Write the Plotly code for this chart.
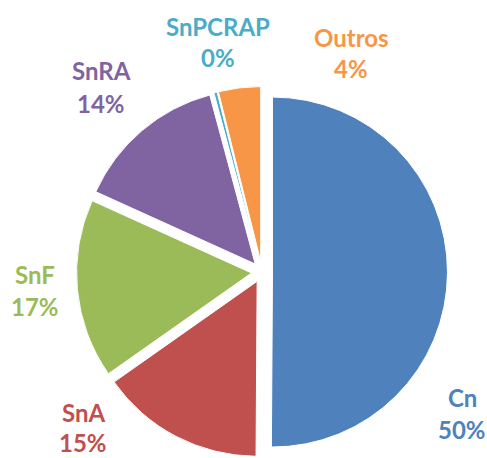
import plotly.graph_objects as go

categories = ["Cn", "SnA", "SnF", "SnRA", "SnPCRAP", "Outros"]
values = [50.3, 15.2, 16.6, 14.1, 0.3, 3.9]
colors = ["#4F81BD", "#C0504D", "#9BBB59", "#8064A2", "#4BACC6", "#F79646"]
# label centres (name line, percent line) in pixels from top-left
label_x = [462, 83, 35, 101, 218, 351]
name_y = [397, 412, 274, 71, 26, 38]
pct_y = [429, 442, 306, 103, 58, 69]

W, H = 487, 458
total = sum(values)

fig = go.Figure(go.Pie(
    labels=categories,
    values=values,
    sort=False,
    direction="clockwise",
    rotation=0,
    pull=[0.06] * len(values),
    marker=dict(colors=colors, line=dict(color="white", width=1)),
    textinfo="none",
    hoverinfo="label+percent",
    showlegend=False,
    domain=dict(x=[76.5 / W, 447.5 / W], y=[1 - 457.5 / H, 1 - 86.5 / H]),
))

for cat, v, c, x, yn, yp in zip(categories, values, colors, label_x, name_y, pct_y):
    for txt, y in ((cat, yn), (f"{round(v / total * 100)}%", yp)):
        fig.add_annotation(
            x=x / W, y=1 - y / H, xref="paper", yref="paper",
            text=f"<b>{txt}</b>",
            showarrow=False, xanchor="center", yanchor="middle",
            font=dict(family="Lato", size=24, color=c),
        )

fig.update_layout(
    width=W, height=H,
    margin=dict(l=0, r=0, t=0, b=0),
    paper_bgcolor="white", plot_bgcolor="white",
)

fig.write_html("out.html", config={"displayModeBar": False},
               post_script="document.body.style.margin='0';")
